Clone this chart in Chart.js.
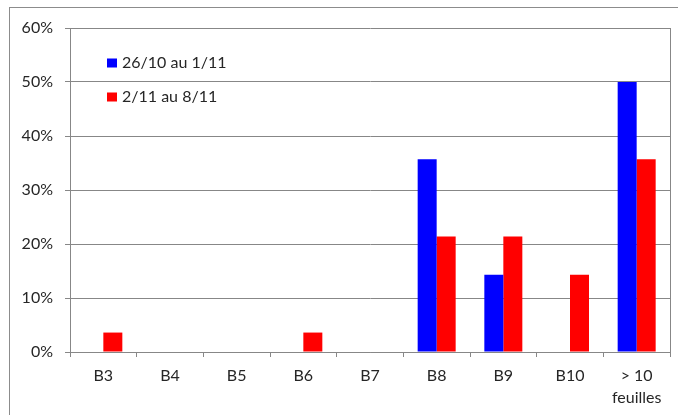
<!DOCTYPE html>
<html>
<head>
<meta charset="utf-8">
<script src="https://cdn.jsdelivr.net/npm/chart.js@4"></script>
<style>
    body { margin: 0; background: #fff; }
    #frame { position: absolute; left: 9px; top: 7px; width: 700px; height: 440px; border: 1px solid #8c8c8c; }
    #wrap { position: absolute; left: 0; top: 0; width: 678px; height: 415px; }
</style>
</head>
<body>
<div id="frame"></div>
<div id="wrap"><canvas id="leafChart"></canvas></div>
<script>
// categories and series (percent)
const categories = ['B3', 'B4', 'B5', 'B6', 'B7', 'B8', 'B9', 'B10', ['> 10', 'feuilles']];
const week1Label = '26/10 au 1/11';
const week2Label = '2/11 au 8/11';
const week1Values = [0, 0, 0, 0, 0, 35.7, 14.3, 0, 50];
const week2Values = [3.6, 0, 0, 3.6, 0, 21.4, 21.4, 14.3, 35.7];
const yTicks = [0, 10, 20, 30, 40, 50, 60];

const gridColor = '#878787';
const textColor = '#262626';
const fontFamily = 'Lato, "Open Sans", sans-serif';

// legend drawn inside the plot, top-left
const innerLegend = {
    id: 'innerLegend',
    afterDraw(chart) {
        const ctx = chart.ctx;
        const area = chart.chartArea;
        ctx.save();
        ctx.font = '16px ' + fontFamily;
        ctx.textBaseline = 'middle';
        chart.data.datasets.forEach((ds, i) => {
            const y = area.top + 35 + i * 34;
            const x = area.left + 37;
            ctx.fillStyle = ds.backgroundColor;
            ctx.fillRect(x, y - 4.5, 10, 9);
            ctx.fillStyle = textColor;
            ctx.fillText(ds.label, x + 15, y);
        });
        // right border of the plot area
        ctx.strokeStyle = gridColor;
        ctx.lineWidth = 1;
        ctx.beginPath();
        ctx.moveTo(area.right + 0.5, area.top);
        ctx.lineTo(area.right + 0.5, area.bottom);
        ctx.stroke();
        ctx.restore();
    }
};

const ctx = document.getElementById('leafChart').getContext('2d');
new Chart(ctx, {
    type: 'bar',
    data: {
        labels: categories,
        datasets: [
            { label: week1Label, data: week1Values, backgroundColor: '#0000ff' },
            { label: week2Label, data: week2Values, backgroundColor: '#ff0000' }
        ]
    },
    options: {
        responsive: true,
        maintainAspectRatio: false,
        animation: false,
        layout: { padding: { top: 28, right: 8, left: 0, bottom: 0 } },
        datasets: { bar: { categoryPercentage: 0.57, barPercentage: 1.0 } },
        plugins: {
            legend: { display: false },
            tooltip: { enabled: false }
        },
        scales: {
            x: {
                afterFit: s => { s.height = 63; },
                grid: { display: true, drawOnChartArea: false, offset: true, tickLength: 5, color: gridColor },
                border: { color: gridColor },
                ticks: {
                    color: textColor,
                    padding: 8,
                    font: { family: fontFamily, size: 16, lineHeight: 1.38 }
                }
            },
            y: {
                min: 0,
                max: 60,
                afterFit: s => { s.width = 70; },
                afterBuildTicks: s => { s.ticks = yTicks.map(v => ({ value: v })); },
                grid: { color: gridColor, tickLength: 5 },
                border: { color: gridColor },
                ticks: {
                    color: textColor,
                    padding: 12,
                    font: { family: fontFamily, size: 16 },
                    callback: v => v + '%'
                }
            }
        }
    },
    plugins: [innerLegend]
});
</script>
</body>
</html>
